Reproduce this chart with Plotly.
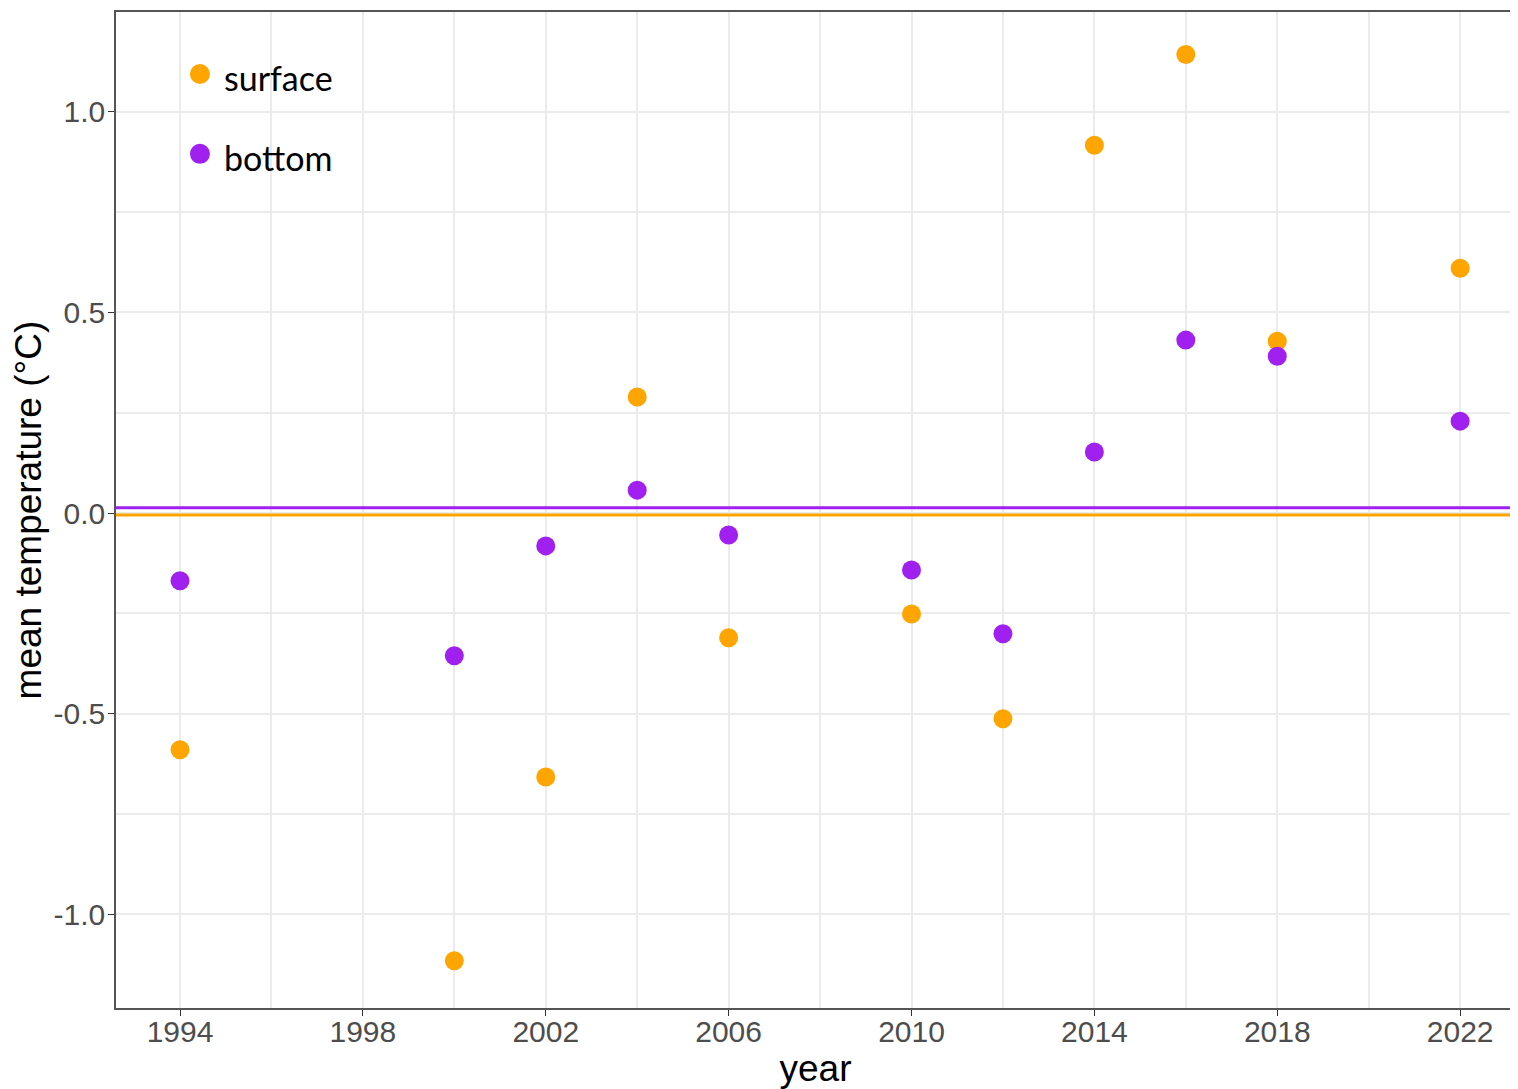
import plotly.graph_objects as go

years = [1994, 2000, 2002, 2004, 2006, 2010, 2012, 2014, 2016, 2018, 2022]
surface = [-0.590, -1.116, -0.658, 0.289, -0.311, -0.252, -0.513, 0.917, 1.143, 0.428, 0.610]
bottom = [-0.169, -0.356, -0.082, 0.057, -0.055, -0.142, -0.301, 0.152, 0.431, 0.391, 0.229]
surface_mean = -0.005
bottom_mean = 0.013
x_ticks = [1994, 1998, 2002, 2006, 2010, 2014, 2018, 2022]
y_ticks = [-1.0, -0.5, 0.0, 0.5, 1.0]
y_tick_labels = ["-1.0", "-0.5", "0.0", "0.5", "1.0"]
series_names = ["surface", "bottom"]

ORANGE = "#FFA500"
PURPLE = "#A020F0"
colors = [ORANGE, PURPLE]

fig = go.Figure()
fig.add_hline(y=surface_mean, line=dict(color=ORANGE, width=3))
fig.add_hline(y=bottom_mean, line=dict(color=PURPLE, width=3))
fig.add_trace(go.Scatter(x=years, y=surface, mode="markers", name=series_names[0],
                         marker=dict(color=ORANGE, size=19), showlegend=False))
fig.add_trace(go.Scatter(x=years, y=bottom, mode="markers", name=series_names[1],
                         marker=dict(color=PURPLE, size=19), showlegend=False))

# manual legend (inside plot, top-left)
leg_x = 0.060
leg_ys = [0.9378, 0.8576]
for name, col, ly in zip(series_names, colors, leg_ys):
    fig.add_shape(type="circle", xref="paper", yref="paper",
                  xsizemode="pixel", ysizemode="pixel",
                  xanchor=leg_x, yanchor=ly, x0=-10, x1=10, y0=-10, y1=10,
                  fillcolor=col, line=dict(width=0))
    fig.add_annotation(x=leg_x + 0.016, y=ly - 0.004, xref="paper", yref="paper",
                       text=name, showarrow=False, xanchor="left", yanchor="middle",
                       font=dict(family="Lato, Noto Sans", size=34, color="black"))

axis_common = dict(showline=True, linecolor="#555555", linewidth=1.5, mirror=True,
                   ticks="outside", ticklen=6, tickcolor="#333333",
                   gridcolor="#EBEBEB", gridwidth=1.5, zeroline=False,
                   tickfont=dict(family="Liberation Sans, Arial", size=30, color="#4D4D4D"))

fig.update_layout(
    width=1510, height=1081,
    margin=dict(l=108, r=1, t=4, b=80),
    plot_bgcolor="white", paper_bgcolor="white",
    showlegend=False,
    xaxis=dict(range=[1992.6, 2023.2], tickvals=x_ticks, ticklabelstandoff=-10,
               title=dict(text="year", standoff=14,
                          font=dict(family="Liberation Sans, Arial", size=37, color="black")),
               minor=dict(dtick=2, tick0=1994, showgrid=True, gridcolor="#EBEBEB", gridwidth=1.5, ticks=""),
               **axis_common),
    yaxis=dict(range=[-1.234, 1.249], tickvals=y_ticks, ticktext=y_tick_labels,
               ticklabelstandoff=-3,
               title=dict(text="mean temperature (°C)", standoff=9,
                          font=dict(family="Liberation Sans, Arial", size=37, color="black")),
               minor=dict(dtick=0.25, tick0=0, showgrid=True, gridcolor="#EBEBEB", gridwidth=1.5, ticks=""),
               **axis_common),
)

fig.write_html("out.html")
